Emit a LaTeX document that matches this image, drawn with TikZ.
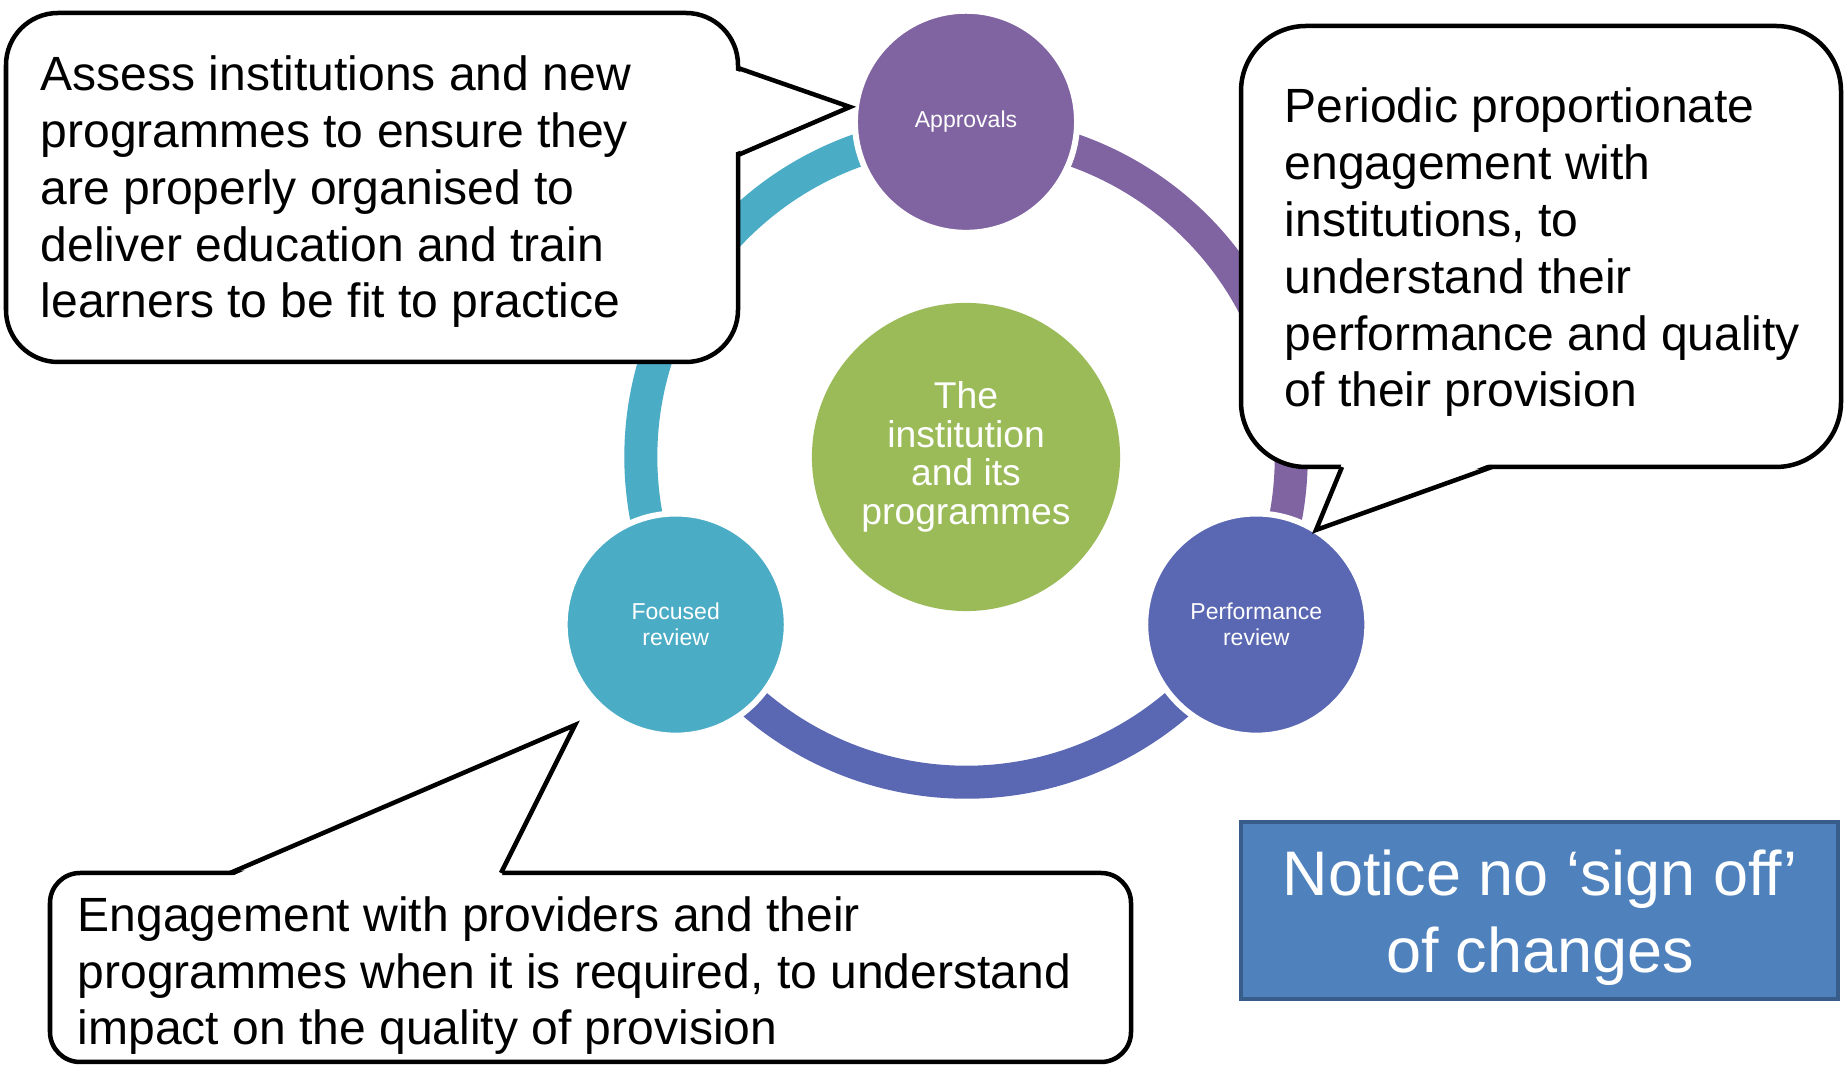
\documentclass[tikz,border=0pt]{standalone}
\usepackage{fontspec}
\setmainfont{Liberation Sans}

\definecolor{hubgreen}{HTML}{9BBB59}
\definecolor{apprpurple}{HTML}{8064A2}
\definecolor{focusteal}{HTML}{4BACC6}
\definecolor{perfblue}{HTML}{5A67B2}
\definecolor{noteblue}{HTML}{4F81BD}
\definecolor{noteedge}{HTML}{385D8A}

\tikzset{
  stage/.style={circle, inner sep=0pt, minimum size=2.22cm, draw=white, line width=0.06cm,
    text=white, align=center, font=\fontsize{6.54}{7.4}\selectfont},
  ring/.style={line width=0.33cm},
  bubble/.style={draw=black, fill=white, line width=0.045cm},
  bubbleline/.style={draw=black, line width=0.045cm, line join=miter},
  % placed at the baseline of the last line
  bubbletext/.style={anchor=base west, inner sep=0pt, align=left,
    font=\fontsize{13.66}{16.2}\selectfont},
}

\begin{document}
\begin{tikzpicture}[x=0.01cm, y=-0.01cm]
\useasboundingbox (0,0) rectangle (1845,1065);

% centre and the ring
\node[circle, fill=hubgreen, minimum size=3.08cm, inner sep=0pt, text=white, align=center,
  font=\fontsize{10.6}{11}\selectfont] (hub) at (966,457) {The\\institution\\and its\\programmes};
\draw[ring, focusteal] ([shift={(90:3.25cm)}]hub.center) arc[start angle=90, end angle=210, radius=3.25cm];
\draw[ring, apprpurple] ([shift={(-30:3.25cm)}]hub.center) arc[start angle=-30, end angle=90, radius=3.25cm];
\draw[ring, perfblue] ([shift={(210:3.25cm)}]hub.center) arc[start angle=210, end angle=330, radius=3.25cm];

% the three stages
\node[stage, fill=apprpurple] (appr) at ([shift={(90:3.35cm)}]hub.center) {Approvals};
\node[stage, fill=focusteal] (focus) at ([shift={(210:3.35cm)}]hub.center) {Focused\\review};
\node[stage, fill=perfblue] (perf) at ([shift={(-30:3.35cm)}]hub.center) {Performance\\review};

% speech bubbles
\draw[bubble, rounded corners=0.52cm] (6,13) rectangle (738,362);
\fill[white] (734,70) -- (850,107) -- (734,153) -- cycle;
\draw[bubbleline] (738,68) -- (850,107) -- (738,155);
\node[bubbletext] (assess) at (40,318) {Assess institutions and new\\programmes to ensure they\\are properly organised to\\deliver education and train\\learners to be fit to practice};

\draw[bubble, rounded corners=0.65cm] (1241,26) rectangle (1841,467);
\fill[white] (1342,463) -- (1316,530) -- (1492,463) -- cycle;
\draw[bubbleline] (1342,467) -- (1316,530) -- (1492,467);
\node[bubbletext] (periodic) at (1284,407) {Periodic proportionate\\engagement with\\institutions, to\\understand their\\performance and quality\\of their provision};

\draw[bubble, rounded corners=0.3cm] (50,873) rectangle (1131,1062);
\fill[white] (230,877) -- (575,725) -- (501,877) -- cycle;
\draw[bubbleline] (230,873) -- (575,725) -- (501,873);
\node[bubbletext] (engage) at (77,1045) {Engagement with providers and their\\programmes when it is required, to understand\\impact on the quality of provision};

% note box
\filldraw[fill=noteblue, draw=noteedge, line width=0.04cm] (1241,822) rectangle (1838,999);
\node[text=white, align=center, inner sep=0pt, font=\fontsize{17.9}{21.9}\selectfont] (notice) at (1540,918) {Notice no ‘sign off’\\of changes};
\end{tikzpicture}
\end{document}
